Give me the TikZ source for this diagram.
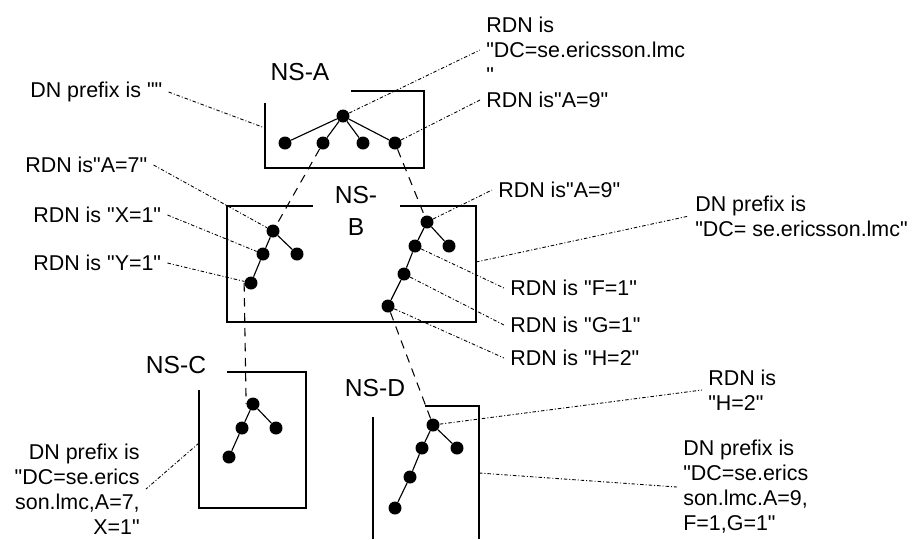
\documentclass[tikz,border=0pt]{standalone}
\usepackage{fontspec}
\setmainfont{Liberation Sans}[Ligatures=TeXOff]
\usepackage{tikz}
\usetikzlibrary{positioning}

\begin{document}
\begin{tikzpicture}[
    x=0.02cm, y=-0.02cm,
    every node/.style={font=\fontsize{12.2}{14.2}\selectfont},
    dot/.style={circle, fill=black, inner sep=0pt, minimum size=0.26cm},
    treeln/.style={line width=0.65pt},
    nsbox/.style={line width=0.9pt},
    link/.style={line width=0.6pt, dash pattern=on 0.17cm off 0.13cm},
    lead/.style={line width=0.5pt, dash pattern=on 0.07cm off 0.04cm on 0.02cm off 0.04cm},
    lbl/.style={anchor=west, align=left, inner xsep=0.12cm, inner ysep=0pt},
    rlbl/.style={lbl, anchor=east, align=right},
    nslbl/.style={font=\fontsize{14}{18}\selectfont, align=center, inner sep=0pt},
]
\useasboundingbox (0,0) rectangle (917,539);
%% -- Name server boxes --
\draw[nsbox](351,91)--(424,91)--(424,168)--(265,168)--(265,103);
\draw[nsbox](313,206)--(227,206)--(227,322)--(476,322)--(476,206)--(400,206);
\draw[nsbox](227,372)--(306,372)--(306,508)--(199,508)--(199,390);
\draw[nsbox](425,406)--(479,406)--(479,539);
\draw[nsbox](373,417)--(373,539);
\node[nslbl](nsA)at(300,72){NS-A};
\node[nslbl](nsB)at(356,211){NS-\\B};
\node[nslbl](nsC)at(176,365){NS-C};
\node[nslbl](nsD)at(375,388){NS-D};
%% -- points on the box edges --
\coordinate(aL)at(265,128);
\coordinate(bR)at(476,262);
\coordinate(cL)at(199,443);
\coordinate(dR)at(479,473);
%% -- Trees --
\node[dot](a0)at(343,116){};
\node[dot](a1)at(285,143){};
\node[dot](a7)at(323,143){};
\node[dot](a2)at(363,143){};
\node[dot](a9)at(395,143){};
\node[dot](b7)at(273,231){};
\node[dot](bx)at(263,254){};
\node[dot](bl)at(297,254){};
\node[dot](by)at(251,283){};
\node[dot](b9)at(427,222){};
\node[dot](bf)at(415,246){};
\node[dot](br)at(449,246){};
\node[dot](bg)at(404,274){};
\node[dot](bh)at(388,306){};
\node[dot](cy)at(253,404){};
\node[dot](c1)at(242,428){};
\node[dot](c2)at(276,428){};
\node[dot](c3)at(229,457){};
\node[dot](dh)at(433,425){};
\node[dot](d1)at(422,448){};
\node[dot](d2)at(457,448){};
\node[dot](d3)at(410,477){};
\node[dot](d4)at(395,508){};
\foreach \u/\v in {a0/a1,a0/a7,a0/a2,a0/a9,b7/bx,b7/bl,bx/by,b9/bf,b9/br,bf/bg,bg/bh,
                   cy/c1,cy/c2,c1/c3,dh/d1,dh/d2,d1/d3,d3/d4}{
  \draw[treeln](\u)--(\v);
}
%% -- Links between name servers --
\draw[link](a7)--(b7);
\draw[link](a9)--(b9);
\draw[link](by.west)--(cy.west);
\draw[link](bh)--(dh);
%% -- Labels, left --
\node[lbl](tDNA)at(24,92){DN prefix is ""};
\node[lbl](tA7)at(19,165){RDN is"A=7"};
\node[lbl](tX1)at(27,215){RDN is "X=1"};
\node[lbl](tY1)at(27,263){RDN is "Y=1"};
\node[rlbl](tDNC)at(146,489){DN prefix is\\"DC=se.erics\\son.lmc,A=7,\\X=1"};
%% -- Labels, right --
\node[lbl](tRoot)at(480,50){RDN is\\"DC=se.ericsson.lmc\\"};
\node[lbl](tA9)at(480,100){RDN is"A=9"};
\node[lbl](tB9)at(492,190){RDN is"A=9"};
\node[lbl](tDNB)at(689,216){DN prefix is\\"DC= se.ericsson.lmc"};
\node[lbl](tF)at(504,288){RDN is "F=1"};
\node[lbl](tG)at(504,325){RDN is "G=1"};
\node[lbl](tH)at(504,358){RDN is "H=2"};
\node[lbl](tHD)at(702,390){RDN is\\"H=2"};
\node[lbl](tDND)at(677,487){DN prefix is\\"DC=se.erics\\son.lmc.A=9,\\F=1,G=1"};
%% -- Leaders --
\draw[lead](tDNA.east)--(aL);
\draw[lead](tA7.east)--(b7);
\draw[lead](tX1.east)--(bx);
\draw[lead](tY1.east)--(by);
\draw[lead](cL)--(tDNC.east);
\draw[lead](a0)--(tRoot.west);
\draw[lead](a9)--(tA9.west);
\draw[lead](b9)--(tB9.west);
\draw[lead](bR)--(tDNB.west);
\draw[lead](bf)--(tF.west);
\draw[lead](bg)--(tG.west);
\draw[lead](bh)--(tH.west);
\draw[lead](dh)--(tHD.west);
\draw[lead](dR)--(tDND.west);
\end{tikzpicture}
\end{document}
